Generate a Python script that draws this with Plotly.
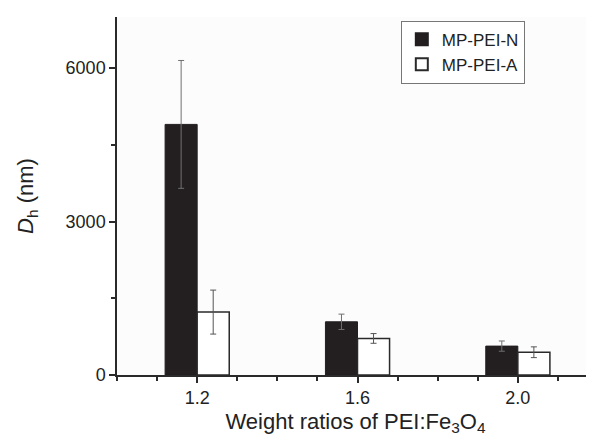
import plotly.graph_objects as go

ratios = [1.2, 1.6, 2.0]
tick_labels = ["1.2", "1.6", "2.0"]
n_values = [4900, 1040, 565]
n_errors = [1250, 150, 100]
a_values = [1230, 715, 445]
a_errors = [430, 95, 105]

axis_color = "#2a2a2a"
font = dict(family="Liberation Sans, Arial, sans-serif", size=18, color="#222222")

fig = go.Figure()
fig.add_trace(go.Bar(
    name="MP-PEI-N", x=ratios, y=n_values,
    marker=dict(color="#231f20", line=dict(color="#231f20", width=1)),
    error_y=dict(type="data", array=n_errors, symmetric=True, color="#707070", thickness=1, width=3),
))
fig.add_trace(go.Bar(
    name="MP-PEI-A", x=ratios, y=a_values,
    marker=dict(color="white", line=dict(color="#2a2a2a", width=1.5)),
    error_y=dict(type="data", array=a_errors, symmetric=True, color="#555555", thickness=1, width=3),
))

fig.update_layout(
    width=594, height=437,
    margin=dict(l=109, r=8, t=9, b=70),
    paper_bgcolor="white", plot_bgcolor="#fcfcfc",
    font=font,
    barmode="group", bargap=0.6, bargroupgap=0,
    showlegend=True,
    legend=dict(
        x=0.595, y=0.99, xanchor="left", yanchor="top",
        bordercolor="#777777", borderwidth=1, bgcolor="white",
        font=dict(family="Liberation Sans, Arial, sans-serif", size=17, color="#222222"),
        tracegroupgap=0, itemsizing="constant",
    ),
    xaxis=dict(
        range=[1.0, 2.19],
        tickmode="array", tickvals=ratios, ticktext=tick_labels,
        ticks="outside", ticklen=6, tickcolor=axis_color, tickwidth=1.5,
        minor=dict(dtick=0.1, tick0=1.0, ticks="outside", ticklen=4, tickcolor=axis_color, tickwidth=1.5),
        showline=True, linecolor=axis_color, linewidth=1.5,
        showgrid=False, zeroline=False,
        title=dict(text="Weight ratios of PEI:Fe<sub>3</sub>O<sub>4</sub>", standoff=6),
    ),
    yaxis=dict(
        range=[0, 7000],
        tickvals=[0, 3000, 6000],
        ticks="outside", ticklen=6, tickcolor=axis_color, tickwidth=1.5,
        minor=dict(tickvals=[1500, 4500], ticks="outside", ticklen=4, tickcolor=axis_color, tickwidth=1.5),
        showline=True, linecolor=axis_color, linewidth=1.5,
        showgrid=False, zeroline=False,
        title=dict(text="<i>D</i><sub>h</sub> (nm)", standoff=26),
    ),
)

fig.write_html("out.html")
